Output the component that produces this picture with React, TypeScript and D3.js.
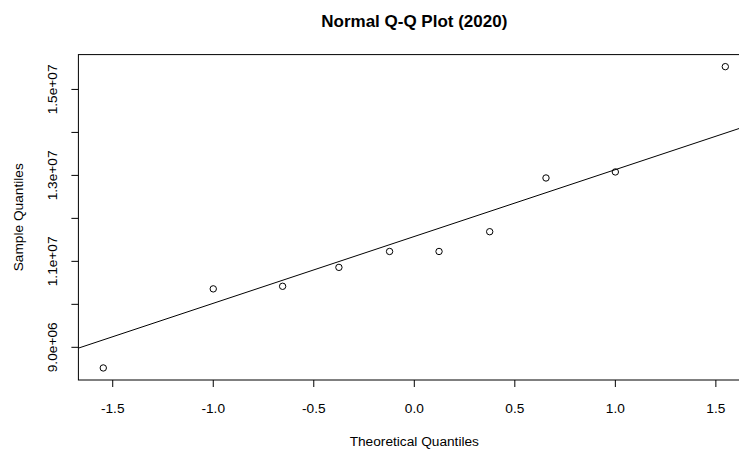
import React from "react";
import * as d3 from "d3";

const theoretical = [-1.547, -1.0, -0.655, -0.375, -0.123, 0.123, 0.375, 0.655, 1.0, 1.547];
const sample = [8.52e6, 10.36e6, 10.42e6, 10.86e6, 11.23e6, 11.23e6, 11.69e6, 12.94e6, 13.08e6, 15.53e6];
const xTicks = [-1.5, -1.0, -0.5, 0.0, 0.5, 1.0, 1.5];
const xTickLabels = ["-1.5", "-1.0", "-0.5", "0.0", "0.5", "1.0", "1.5"];
const yTicks = [9e6, 1e7, 1.1e7, 1.2e7, 1.3e7, 1.4e7, 1.5e7];
const yTickLabels = ["9.0e+06", "", "1.1e+07", "", "1.3e+07", "", "1.5e+07"];
const title = "Normal Q-Q Plot (2020)";
const xTitle = "Theoretical Quantiles";
const yTitle = "Sample Quantiles";

const W = 739;
const H = 452;
const left = 78.4;
const right = 750.2;
const top = 54.6;
const bottom = 380;
const font = "'Liberation Sans', Arial, sans-serif";
const fs = 13.7;

function ext(a: number[]): [number, number] {
  const [lo, hi] = d3.extent(a) as [number, number];
  const d = (hi - lo) * 0.04;
  return [lo - d, hi + d];
}

export default function App() {
  const x = d3.scaleLinear().domain(ext(theoretical)).range([left, right]);
  const y = d3.scaleLinear().domain(ext(sample)).range([bottom, top]);

  const sorted = [...sample].sort((a, b) => a - b);
  const q1 = d3.quantile(sorted, 0.25) as number;
  const q3 = d3.quantile(sorted, 0.75) as number;
  const z = 0.6744898;
  const slope = (q3 - q1) / (2 * z);
  const intercept = q1 + slope * z;
  const [xd0, xd1] = x.domain();
  const line = d3.line<number>()
    .x((t) => x(t))
    .y((t) => y(intercept + slope * t));

  return (
    <svg width={W} height={H} style={{ position: "absolute", left: 0, top: 0, background: "#fff" }} fontFamily={font}>
      <rect x={0} y={0} width={W} height={H} fill="#fff" />
      <text x={(left + right) / 2} y={26.5} textAnchor="middle" fontSize={17} fontWeight="bold" fill="#000">{title}</text>
      <defs>
        <clipPath id="plotclip">
          <rect x={left} y={top} width={right - left} height={bottom - top} />
        </clipPath>
      </defs>
      <path d={line([xd0, xd1]) || ""} stroke="#000" strokeWidth={1} fill="none" clipPath="url(#plotclip)" />
      {theoretical.map((t, i) => (
        <circle key={i} cx={x(t)} cy={y(sample[i])} r={3.2} fill="none" stroke="#000" strokeWidth={1} />
      ))}
      <rect x={left} y={top} width={right - left} height={bottom - top} fill="none" stroke="#000" strokeWidth={1} />
      {xTicks.map((t, i) => (
        <g key={i}>
          <line x1={x(t)} x2={x(t)} y1={bottom} y2={bottom + 7} stroke="#000" />
          <text x={x(t)} y={413} textAnchor="middle" fontSize={fs} fill="#000">{xTickLabels[i]}</text>
        </g>
      ))}
      {yTicks.map((v, i) => (
        <g key={i}>
          <line x1={left - 7} x2={left} y1={y(v)} y2={y(v)} stroke="#000" />
          {yTickLabels[i] && (
            <text transform={`translate(57,${y(v)}) rotate(-90)`} textAnchor="middle" fontSize={fs} fill="#000">{yTickLabels[i]}</text>
          )}
        </g>
      ))}
      <text x={(left + right) / 2} y={446} textAnchor="middle" fontSize={fs} fill="#000">{xTitle}</text>
      <text transform={`translate(23,${(top + bottom) / 2}) rotate(-90)`} textAnchor="middle" fontSize={fs} fill="#000">{yTitle}</text>
    </svg>
  );
}
